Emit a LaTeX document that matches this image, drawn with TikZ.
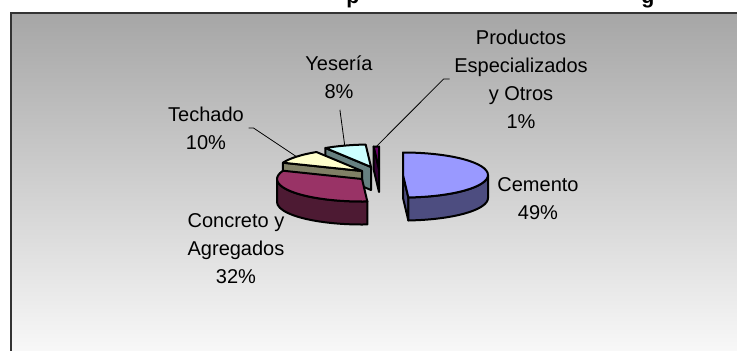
\documentclass[tikz,border=0pt]{standalone}
\usepackage{fontspec}
\setmainfont{Liberation Sans}
\usepackage{xcolor}

\definecolor{cemtop}{RGB}{153,153,255}
\definecolor{cemside}{RGB}{77,77,128}
\definecolor{contop}{RGB}{153,51,102}
\definecolor{conside}{RGB}{77,26,51}
\definecolor{tectop}{RGB}{255,255,204}
\definecolor{tecside}{RGB}{128,128,102}
\definecolor{yestop}{RGB}{204,255,255}
\definecolor{yesside}{RGB}{102,128,128}
\definecolor{protop}{RGB}{102,0,102}
\definecolor{proside}{RGB}{51,0,51}
\definecolor{plottop}{RGB}{166,166,166}
\definecolor{plotbot}{RGB}{250,250,250}

\tikzset{
    slice/.style={draw=black, line width=1.5pt, line join=round, x radius=85, y radius=22.5},
    lbl/.style={align=center, text=black, font=\fontsize{15}{21}\selectfont},
    leader/.style={draw=black, line width=0.6pt},
}

\begin{document}
\begin{tikzpicture}[x=0.75pt,y=0.75pt,yscale=-1]

    \useasboundingbox (0,0) rectangle (737,350);
    \draw [line width=1.5pt, draw=black!80, top color=plottop, bottom color=plotbot] (11,13) rectangle (748,360);

    \draw (353,3) node [anchor=base, font=\fontsize{16}{19}\selectfont\bfseries] (ttlp) {p};
    \draw (648,3) node [anchor=base, font=\fontsize{16}{19}\selectfont\bfseries] (ttlg) {g};

    \coordinate (cem) at (403,175);
    \coordinate (con) at (362,179);
    \coordinate (tec) at (362,171);
    \coordinate (yes) at (371,167);
    \coordinate (pro) at (379,169);

    \draw [slice, fill=proside] (pro) -- ++(266.4:85 and 22.5) -- ++(0,23) -- ++(86.4:85 and 22.5) -- cycle;
    \draw [slice, fill=protop] (pro) -- ++(266.4:85 and 22.5) arc [start angle=266.4, end angle=270] -- cycle;
    \draw [slice, fill=yesside] (yes) -- ++(237.6:85 and 22.5) -- ++(0,23) -- ++(57.6:85 and 22.5) -- cycle;
    \draw [slice, fill=yestop] (yes) -- ++(237.6:85 and 22.5) arc [start angle=237.6, end angle=266.4] -- cycle;
    \draw [slice, fill=tecside] (tec) -- ++(201.6:85 and 22.5) -- ++(0,23) -- ++(21.6:85 and 22.5) -- cycle;
    \draw [slice, fill=tectop] (tec) -- ++(201.6:85 and 22.5) arc [start angle=201.6, end angle=237.6] -- cycle;
    \draw [slice, fill=conside] (con) ++(86.4:85 and 22.5) arc [start angle=86.4, end angle=180] -- ++(0,23) arc [start angle=180, end angle=86.4] -- cycle;
    \draw [slice, fill=contop] (con) -- ++(86.4:85 and 22.5) arc [start angle=86.4, end angle=201.6] -- cycle;
    \draw [slice, fill=cemside] (cem) -- ++(86.4:85 and 22.5) -- ++(0,23) -- ++(266.4:85 and 22.5) -- cycle;
    \draw [slice, fill=cemside] (cem) ++(0:85 and 22.5) arc [start angle=0, end angle=86.4] -- ++(0,23) arc [start angle=86.4, end angle=0] -- cycle;
    \draw [slice, fill=cemtop] (cem) -- ++(-90:85 and 22.5) arc [start angle=-90, end angle=86.4] -- cycle;

    \path (tec) ++(219.6:85 and 22.5) coordinate (ttec);
    \path (yes) ++(252:85 and 22.5) coordinate (tyes);
    \path (pro) ++(268.2:85 and 22.5) coordinate (tpro);

    \draw (538,199) node [lbl] (lcem) {Cemento\\49\%};
    \draw (236,249) node [lbl] (lcon) {Concreto y\\Agregados\\32\%};
    \draw (206,128) node [lbl] (ltec) {Techado\\10\%};
    \draw (339,77) node [lbl] (lyes) {Yesería\\8\%};
    \draw (521,79) node [lbl] (lpro) {Productos\\Especializados\\y Otros\\1\%};

    \draw [leader] (ltec.east) -- ++(5,0) -- (ttec);
    \draw [leader, shorten <=5pt] (lyes.south) -- (tyes);
    \draw [leader] (lpro.west) -- ++(-6,0) -- (tpro);

\end{tikzpicture}
\end{document}
